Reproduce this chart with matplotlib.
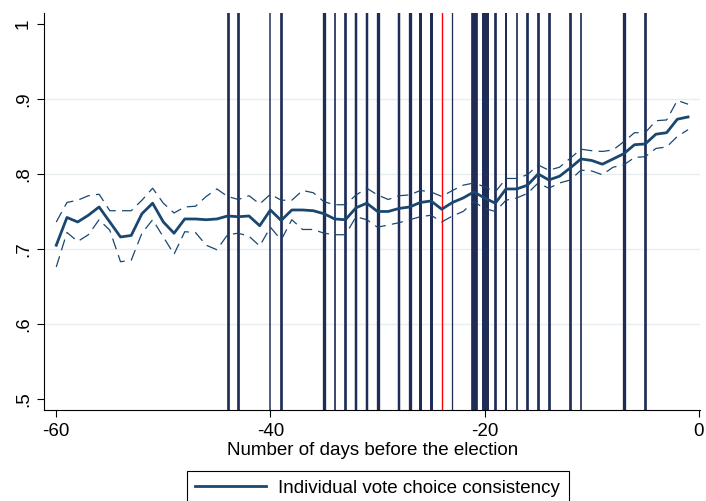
import matplotlib
matplotlib.use("Agg")
import matplotlib.pyplot as plt

plt.rcParams['font.family'] = ['Liberation Sans', 'DejaVu Sans']
plt.rcParams['axes.unicode_minus'] = False

# days before the election
days = list(range(-60, 0))

# share of consistent vote choice, with confidence bounds
consistency = [
    0.705, 0.742, 0.736, 0.745, 0.756, 0.736, 0.716, 0.718, 0.747, 0.761,
    0.736, 0.721, 0.740, 0.740, 0.739, 0.740, 0.744, 0.743, 0.744, 0.731,
    0.752, 0.738, 0.752, 0.752, 0.751, 0.747, 0.740, 0.739, 0.755, 0.761,
    0.750, 0.750, 0.754, 0.756, 0.762, 0.764, 0.753, 0.762, 0.768, 0.776,
    0.768, 0.761, 0.780, 0.780, 0.785, 0.800, 0.792, 0.797, 0.808, 0.820,
    0.818, 0.813, 0.820, 0.827, 0.839, 0.840, 0.853, 0.855, 0.873, 0.876,
]
upper = [
    0.736, 0.762, 0.765, 0.771, 0.773, 0.751, 0.751, 0.751, 0.765, 0.781,
    0.761, 0.748, 0.756, 0.757, 0.770, 0.780, 0.770, 0.766, 0.771, 0.760,
    0.773, 0.765, 0.765, 0.778, 0.775, 0.763, 0.759, 0.759, 0.772, 0.781,
    0.772, 0.766, 0.771, 0.772, 0.778, 0.776, 0.770, 0.778, 0.785, 0.788,
    0.783, 0.776, 0.794, 0.794, 0.799, 0.812, 0.805, 0.809, 0.821, 0.833,
    0.831, 0.830, 0.832, 0.843, 0.855, 0.855, 0.871, 0.872, 0.898, 0.893,
]
lower = [
    0.676, 0.722, 0.710, 0.719, 0.739, 0.725, 0.683, 0.685, 0.721, 0.739,
    0.716, 0.693, 0.723, 0.722, 0.705, 0.699, 0.719, 0.721, 0.717, 0.704,
    0.729, 0.712, 0.739, 0.726, 0.726, 0.721, 0.719, 0.719, 0.743, 0.739,
    0.729, 0.732, 0.735, 0.739, 0.743, 0.745, 0.736, 0.744, 0.750, 0.763,
    0.754, 0.750, 0.765, 0.768, 0.774, 0.788, 0.781, 0.788, 0.792, 0.805,
    0.804, 0.799, 0.809, 0.812, 0.822, 0.823, 0.834, 0.836, 0.850, 0.859,
]

# days with events marked by vertical lines
event_days = [-44, -43, -40, -39, -35, -34, -33, -32, -31, -30, -28, -27, -26,
              -25, -23, -21, -20, -19, -18, -17, -16, -15, -14, -12, -11, -7, -5]
event_widths = [2.7, 2.7, 1.5, 2.7, 3.3, 1.7, 2.7, 2.5, 2.5, 3.3, 2.5, 3.3, 3.0,
                3.0, 1.3, 6.7, 7.0, 2.7, 2.0, 1.7, 2.7, 2.7, 2.7, 2.7, 1.7, 3.3, 2.7]
key_day = -24

navy = '#1a476f'
dark = '#1e2c56'

fig = plt.figure(figsize=(7.06, 5.01), dpi=100)
ax = fig.add_axes([0.0627, 0.1826, 0.9293, 0.7921])

for d, w in zip(event_days, event_widths):
    ax.axvline(d, color=dark, lw=w * 0.72, zorder=1)
ax.axvline(key_day, color='#ff0000', lw=1.0, zorder=1)

ax.plot(days, upper, color=navy, lw=0.9, dashes=(9, 5), zorder=2)
ax.plot(days, lower, color=navy, lw=0.9, dashes=(9, 5), zorder=2)
line, = ax.plot(days, consistency, color=navy, lw=2.0, zorder=3,
                label='Individual vote choice consistency')

ax.set_xlim(-61.12, 0.15)
ax.set_ylim(0.486, 1.015)
ax.set_xticks([-60, -40, -20, 0])
ax.set_yticks([0.5, 0.6, 0.7, 0.8, 0.9, 1.0])
ax.set_yticklabels(['.5', '.6', '.7', '.8', '.9', '1'], rotation=90, va='center')

for y in [0.6, 0.7, 0.8, 0.9]:
    ax.axhline(y, color='#e6eef0', lw=1.0, zorder=0)

for s in ['top', 'right']:
    ax.spines[s].set_visible(False)
for s in ['left', 'bottom']:
    ax.spines[s].set_linewidth(0.8)
    ax.spines[s].set_color('black')

ax.tick_params(axis='both', length=5, width=0.8, labelsize=13.5, direction='out')
ax.tick_params(axis='x', pad=5)
ax.tick_params(axis='y', pad=4)
ax.set_xlabel('Number of days before the election', fontsize=13.5, labelpad=1)

leg = fig.legend(handles=[line], loc='upper center', bbox_to_anchor=(0.535, 0.06),
                 fontsize=13.5, frameon=True, fancybox=False, edgecolor='black',
                 framealpha=1, handlelength=3.8, handletextpad=0.65,
                 borderpad=0.45, borderaxespad=0)
leg.get_frame().set_linewidth(0.8)

fig.savefig('out.png', dpi=100)
